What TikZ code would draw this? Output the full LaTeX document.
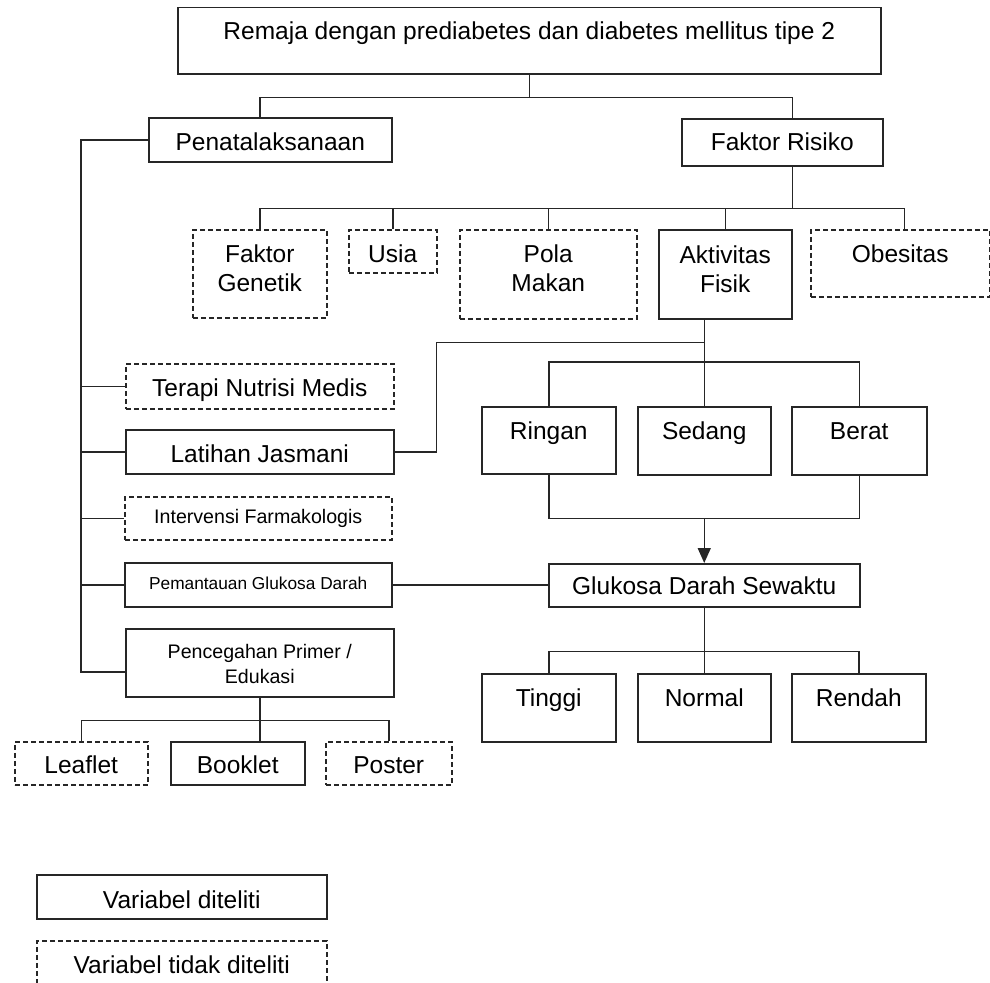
\documentclass[tikz,border=0pt]{standalone}
\usepackage{fontspec}
\setmainfont{Liberation Sans}
\usetikzlibrary{calc,arrows.meta}

\tikzset{
	kotak/.style={draw=black!85, line width=1.5pt, inner sep=0pt, anchor=north west, align=center,
		text height=33pt, font=\fontsize{24.5}{29}\selectfont},
	putus/.style={kotak, dash pattern=on 5pt off 3pt},
	ukuran/.style 2 args={minimum width=#1pt, text depth=#2pt},
	garis/.style={draw=black!85, line width=1.5pt},
	panah/.style={garis, -{Triangle[width=13pt,length=15pt]}},
}

\begin{document}
\begin{tikzpicture}[x=1pt, y=-1pt]
			%%%%% START %%%%%
			\useasboundingbox (0,0) rectangle (990,982);
			
			\node[kotak, ukuran={703}{34}, text height=32pt] (judul) at (177,7) {Remaja dengan prediabetes dan diabetes mellitus tipe 2};
			\node[kotak, ukuran={243}{11}] (pen) at (148,117) {Penatalaksanaan};
			\node[kotak, ukuran={201}{15}, text height=32pt] (fr) at (681,118) {Faktor Risiko};
			
			% faktor risiko
			\node[putus, ukuran={134}{26}, text height=62pt] (gen) at (192,229) {Faktor\\Genetik};
			\node[putus, ukuran={88}{10}] (usia) at (348,229) {Usia};
			\node[putus, ukuran={177}{27}, text height=62pt] (pola) at (459,229) {Pola\\Makan};
			\node[kotak, ukuran={133}{26}, text height=63pt] (akt) at (658,229) {Aktivitas\\Fisik};
			\node[putus, ukuran={179}{34}] (obes) at (810,229) {Obesitas};
			
			% penatalaksanaan
			\node[putus, ukuran={268}{12}] (tnm) at (125,363) {Terapi Nutrisi Medis};
			\node[kotak, ukuran={268}{11}] (lat) at (125,429) {Latihan Jasmani};
			\node[putus, ukuran={267}{16}, text height=27pt, font=\fontsize{19.6}{25}\selectfont] (int) at (124,496) {Intervensi Farmakologis};
			\node[kotak, ukuran={267}{17}, text height=27pt, font=\fontsize{17.3}{21}\selectfont] (pgd) at (124,562) {Pemantauan Glukosa Darah};
			\node[kotak, ukuran={268}{13}, text height=55pt, font=\fontsize{19.6}{25}\selectfont] (pcg) at (125,628) {Pencegahan Primer /\\Edukasi};
			
			\node[putus, ukuran={133}{11}, text height=32pt] (lft) at (14,741) {Leaflet};
			\node[kotak, ukuran={134}{11}, text height=32pt] (bkl) at (170,741) {Booklet};
			\node[putus, ukuran={126}{11}, text height=32pt] (pst) at (325,741) {Poster};
			
			% aktivitas fisik dan glukosa
			\node[kotak, ukuran={134}{34}] (rgn) at (481,406) {Ringan};
			\node[kotak, ukuran={133}{35}] (sdg) at (637,406) {Sedang};
			\node[kotak, ukuran={135}{35}] (brt) at (791,406) {Berat};
			\node[kotak, ukuran={311}{12}, text height=31pt] (glk) at (548,563) {Glukosa Darah Sewaktu};
			\node[kotak, ukuran={134}{35}] (tgi) at (481,673) {Tinggi};
			\node[kotak, ukuran={133}{35}] (nml) at (637,673) {Normal};
			\node[kotak, ukuran={134}{35}] (rdh) at (791,673) {Rendah};
			
			% keterangan
			\node[kotak, ukuran={290}{10}, text height=34pt] (ket1) at (36,874) {Variabel diteliti};
			\node[putus, ukuran={290}{13}] (ket2) at (36,940) {Variabel tidak diteliti};
			
			% garis
			\draw[garis] (judul.south) -- ++(0,23) coordinate (a1);
			\draw[garis] (pen.north -| gen.north) |- (a1) -| (fr.north -| akt.east);
			
			\draw[garis] (fr.south -| akt.east) -- ++(0,42) coordinate (b1);
			\draw[garis] (gen.north) |- (b1) -| ([xshift=4pt]obes.north);
			\foreach \n in {usia,pola,akt}
				\draw[garis] (\n.north) -- (\n.north |- b1);
			
			\coordinate (c1) at (81,672);
			\draw[garis] (pen.west) -| (c1) -- (c1 -| pcg.west);
			\foreach \n in {tnm,lat,int,pgd}
				\draw[garis] (\n.west) -- (\n.west -| c1);
			
			\draw[garis] (pcg.south) -- ++(0,23) coordinate (g1);
			\draw[garis] (lft.north) |- (g1) -| (pst.north);
			\draw[garis] (g1) -- (g1 |- bkl.north);
			
			\draw[garis] (akt.south -| sdg.north) -- (sdg.north);
			\coordinate (d1) at ($(akt.south -| sdg.north)+(0,23)$);
			\draw[garis] (lat.east) -- ++(42,0) |- (d1);
			\draw[garis] (rgn.north) -- ++(0,-44) -| (brt.north);
			\draw[garis] (rgn.south) -- ++(0,44) coordinate (e1) -| (brt.south);
			\draw[panah] (e1 -| glk.north) -- (glk.north);
			
			\draw[garis] (pgd.east) -- (pgd.east -| glk.west);
			
			\draw[garis] (glk.south) -- ++(0,44) coordinate (f1);
			\draw[garis] (tgi.north) |- (f1) -| (rdh.north);
			\draw[garis] (nml.north) -- (nml.north |- f1);
			
			%%%%% END %%%%%
\end{tikzpicture}
\end{document}
